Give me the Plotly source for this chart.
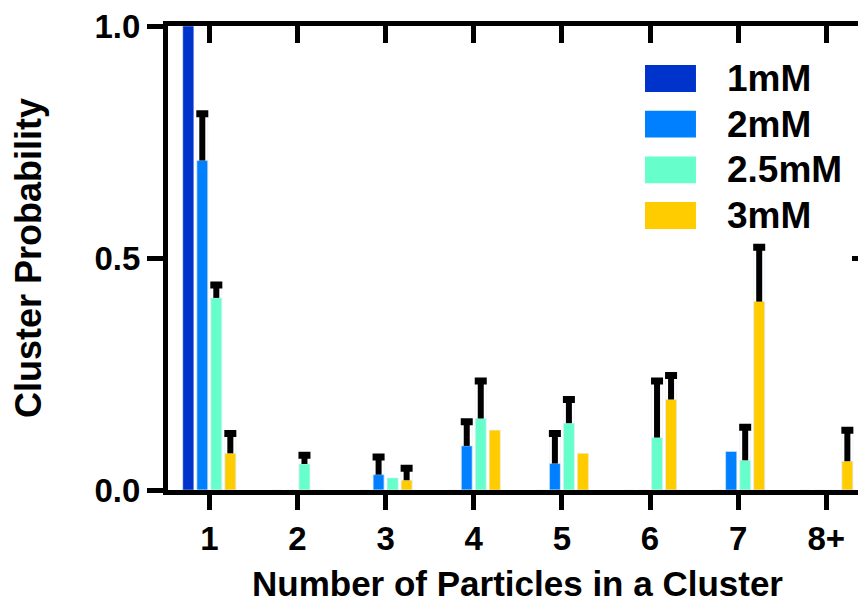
import plotly.graph_objects as go

# ---------------- data ----------------
categories = ["1", "2", "3", "4", "5", "6", "7", "8+"]
series_names = ["1mM", "2mM", "2.5mM", "3mM"]
colors = ["#0033CC", "#0080FF", "#66FFCC", "#FFCC00"]

p_1mM = [1.0, 0, 0, 0, 0, 0, 0, 0]
p_2mM = [0.710, 0, 0.033, 0.095, 0.057, 0, 0.083, 0]
p_25mM = [0.414, 0.056, 0.026, 0.154, 0.144, 0.113, 0.064, 0]
p_3mM = [0.079, 0, 0.021, 0.129, 0.079, 0.195, 0.406, 0.062]

err_1mM = [None, None, None, None, None, None, None, None]
err_2mM = [0.101, None, 0.038, 0.052, 0.065, None, None, None]
err_25mM = [0.028, 0.019, None, 0.081, 0.051, 0.122, 0.071, None]
err_3mM = [0.043, None, 0.026, None, None, 0.052, 0.117, 0.067]

y_ticks = [0.0, 0.5, 1.0]
x_title = "Number of Particles in a Cluster"
y_title = "Cluster Probability"

values = [p_1mM, p_2mM, p_25mM, p_3mM]
errors = [err_1mM, err_2mM, err_25mM, err_3mM]

FONT = "Liberation Sans, Arial, Helvetica, sans-serif"

fig = go.Figure()

# main bars with the vertical (upper-only) error line
for i, (name, vals, errs, col) in enumerate(zip(series_names, values, errors, colors)):
    fig.add_trace(go.Bar(
        x=categories, y=vals, name=name, marker_color=col,
        offsetgroup=str(i), showlegend=False,
        error_y=dict(type="data", symmetric=False,
                     array=[e if e is not None else 0 for e in errs],
                     arrayminus=[0] * len(errs),
                     width=0, thickness=6, color="black"),
    ))

# transparent helper bars carrying the error-bar caps at value + error
for i, (vals, errs) in enumerate(zip(values, errors)):
    tops = [v + e if e is not None else None for v, e in zip(vals, errs)]
    fig.add_trace(go.Bar(
        x=categories, y=tops, marker_color="rgba(0,0,0,0)",
        offsetgroup=str(i), showlegend=False, hoverinfo="skip",
        error_y=dict(type="data", array=[0] * len(errs), width=6,
                     thickness=7, color="black"),
    ))

# empty traces so the mirrored frame axes (top / right) get drawn
fig.add_trace(go.Scatter(x=[], y=[], xaxis="x2", yaxis="y", showlegend=False,
                         hoverinfo="skip"))
fig.add_trace(go.Scatter(x=[], y=[], xaxis="x", yaxis="y2", showlegend=False,
                         hoverinfo="skip"))

X_RANGE = [-0.4686, 7.45]

# the page body has an 8px default margin, so the figure is sized to fit the window
fig.update_layout(
    width=858, height=596,
    margin=dict(l=160, r=0, t=18, b=114),
    paper_bgcolor="white", plot_bgcolor="white",
    barmode="group", bargap=0.364, bargroupgap=0.21,
    font=dict(family=FONT, color="black"),
    showlegend=False,
    xaxis=dict(
        type="category", categoryorder="array", categoryarray=categories,
        range=X_RANGE, showgrid=False, zeroline=False, automargin=False,
        showline=True, linewidth=5, linecolor="black",
        ticks="outside", ticklen=15, tickwidth=5, tickcolor="black",
        ticklabeloverflow="allow",
        tickfont=dict(size=33, family=FONT, weight="bold"),
    ),
    xaxis2=dict(
        type="linear", overlaying="x", side="top", anchor="y", range=X_RANGE,
        tickmode="array", tickvals=list(range(len(categories))),
        showticklabels=False,
        showgrid=False, zeroline=False, automargin=False,
        showline=True, linewidth=5, linecolor="black",
        ticks="inside", ticklen=17, tickwidth=5, tickcolor="black",
    ),
    yaxis=dict(
        range=[0, 1], tickvals=y_ticks, tickformat=".1f",
        showgrid=False, zeroline=False, automargin=False,
        showline=True, linewidth=5, linecolor="black",
        ticks="outside", ticklen=16, tickwidth=5, tickcolor="black",
        ticklabeloverflow="allow",
        tickfont=dict(size=33, family=FONT, weight="bold"),
        title=dict(text=y_title,
                   font=dict(size=36, family=FONT, weight="bold"), standoff=46),
    ),
    yaxis2=dict(
        type="linear", overlaying="y", side="right", anchor="x", range=[0, 1],
        tickmode="array", tickvals=[0.5], showticklabels=False,
        showgrid=False, zeroline=False, automargin=False,
        showline=False, ticks="inside", ticklen=14, tickwidth=5, tickcolor="black",
    ),
)

# x-axis title placed as a paper annotation, kept inside the page
fig.add_annotation(xref="paper", yref="paper", x=0.5, y=-0.202,
                   xanchor="center", yanchor="middle", showarrow=False,
                   text=x_title,
                   font=dict(size=35, family=FONT, weight="bold", color="black"))

# custom legend (large swatches) in paper coordinates
LEG_SW_X0, LEG_SW_X1 = 0.6834, 0.7564
LEG_TEXT_X = 0.798
LEG_TOP = 0.916
LEG_SW_H = 0.058
LEG_STEP = 0.0985
for i, (name, col) in enumerate(zip(series_names, colors)):
    y1 = LEG_TOP - i * LEG_STEP
    y0 = y1 - LEG_SW_H
    fig.add_shape(type="rect", xref="paper", yref="paper",
                  x0=LEG_SW_X0, x1=LEG_SW_X1, y0=y0, y1=y1,
                  fillcolor=col, line=dict(width=0))
    fig.add_annotation(xref="paper", yref="paper", x=LEG_TEXT_X, y=(y0 + y1) / 2,
                       xanchor="left", yanchor="middle", showarrow=False,
                       text=name, font=dict(size=37, family=FONT, weight="bold",
                                            color="black"))

fig.write_html("out.html")
